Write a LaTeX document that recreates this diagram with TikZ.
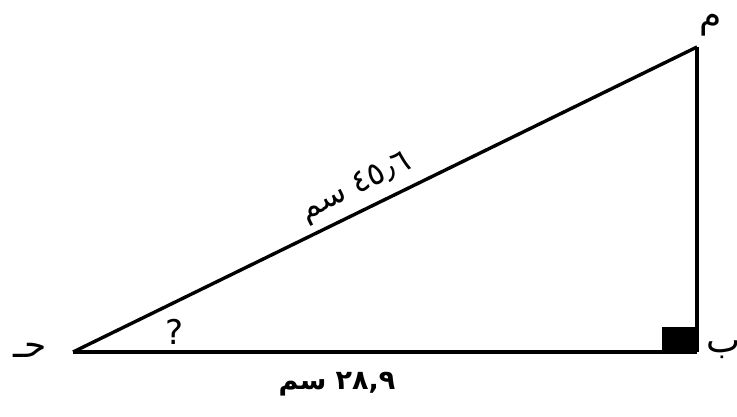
\documentclass[tikz,border=0pt]{standalone}
\usepackage{fontspec}
\newfontfamily\arabicfont[Script=Arabic]{DejaVu Sans}
\TeXXeTstate=1
\usetikzlibrary{calc}
\definecolor{ink}{HTML}{000000}
\tikzset{
  side/.style={line width=3.4pt,draw=ink,line join=round},
  vertexlabel/.style={font=\arabicfont\fontsize{36}{40}\selectfont,text=ink,inner sep=0pt},
  lenlabel/.style={font=\arabicfont\fontsize{32}{36}\selectfont,text=ink,inner sep=0pt},
  marker/.style={fill=ink}
}

\begin{document}
\begin{tikzpicture}[x=1pt,y=-1pt]
        \useasboundingbox (0,0) rectangle (737,416);

        \coordinate (C) at (73,352);
        \coordinate (B) at (697,352);
        \coordinate (A) at (697,47);

        % right angle
        \fill[marker] ($(B)+(-35,-25)$) rectangle (B);

        \draw[side] (C) -- (B);
        \draw[side] (B) -- (A);
        \draw[side] (C) -- node[lenlabel,pos=0.47,sloped,above=7pt]
          {\beginR ٤٥٫٦ سم\endR} (A);

        \node[vertexlabel] (lblA) at (711,25) {\beginR م\endR};
        \node[vertexlabel] (lblB) at (723,350) {\beginR ب\endR};
        \node[vertexlabel] (lblC) at (30,350) {\beginR حـ\endR};

        \node[lenlabel,font=\arabicfont\bfseries\fontsize{27}{32}\selectfont] (base) at (337,384)
          {\beginR ٢٨,٩ سم\endR};
        \node[font=\arabicfont\fontsize{34}{38}\selectfont,inner sep=0pt] (ang) at (175,332) {?};
      \end{tikzpicture}
\end{document}
